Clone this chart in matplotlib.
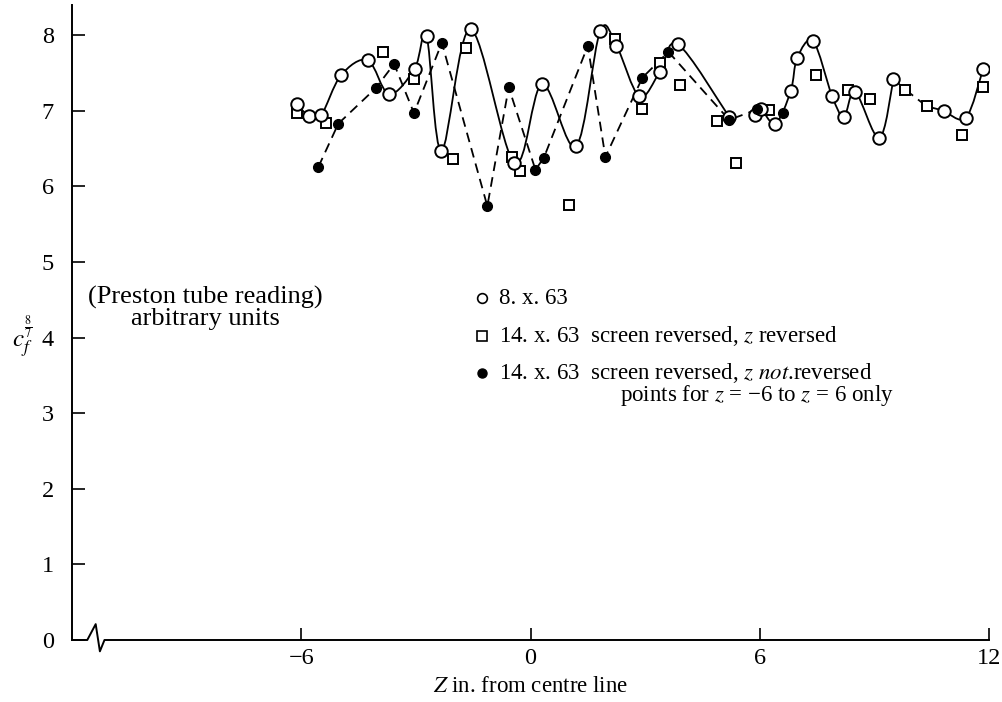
import numpy as np
import matplotlib
matplotlib.use("Agg")
import matplotlib.pyplot as plt
from matplotlib.path import Path
from matplotlib.patches import PathPatch
from matplotlib.lines import Line2D

# ---------------- data ----------------
# 8. x. 63  (open circles, smooth solid curve)
circ_z = [-6.12, -5.79, -5.48, -4.96, -4.26, -3.70, -3.03, -2.72, -2.33, -1.57,
          -0.42, 0.30, 1.19, 1.82, 2.25, 2.85, 3.39, 3.86, 5.20,
          5.87, 6.02, 6.41, 6.81, 6.98, 7.40, 7.89, 8.20, 8.50, 9.13, 9.50,
          10.83, 11.40, 11.85]
circ_c = [7.09, 6.93, 6.94, 7.47, 7.67, 7.22, 7.56, 7.99, 6.47, 8.08,
          6.31, 7.35, 6.53, 8.05, 7.86, 7.19, 7.52, 7.88, 6.92,
          6.94, 7.03, 6.83, 7.26, 7.70, 7.92, 7.20, 6.92, 7.25, 6.64, 7.42,
          7.00, 6.91, 7.56]
# solid-curve pieces (index ranges into circ_*)
circ_segments = [(0, 19), (19, 30), (30, 33)]

# 14. x. 63 screen reversed, z reversed (open squares)
sq_z = [-6.12, -5.35, -3.87, -3.05, -2.04, -1.68, -0.49, -0.27, 1.02, 2.22,
        2.91, 3.39, 3.91, 4.89, 5.37, 6.24, 7.46, 8.31, 8.89, 9.81,
        10.37, 11.29, 11.85]
sq_c = [6.97, 6.84, 7.78, 7.42, 6.36, 7.83, 6.39, 6.20, 5.76, 7.95,
        7.02, 7.63, 7.34, 6.87, 6.31, 7.01, 7.47, 7.27, 7.15, 7.28,
        7.06, 6.68, 7.31]

# 14. x. 63 screen reversed, z not reversed (filled circles, dashed)
fill_z = [-5.55, -5.03, -4.05, -3.57, -3.05, -2.32, -1.13, -0.57, 0.13, 0.35,
          1.50, 1.96, 2.93, 3.61, 5.20, 5.94, 6.61]
fill_c = [6.26, 6.83, 7.30, 7.62, 6.97, 7.90, 5.74, 7.31, 6.22, 6.38,
          7.86, 6.39, 7.44, 7.78, 6.88, 7.02, 6.97]

x_ticks = [-6, 0, 6, 12]
x_ticklabels = ["\u22126", "0", "6", "12"]
y_ticks = [0, 1, 2, 3, 4, 5, 6, 7, 8]

legend_labels = ["8. x. 63",
                 "14. x. 63  screen reversed, $z$ reversed",
                 "14. x. 63  screen reversed, $z$ $\\mathit{not}$.reversed"]
legend_note = "points for $z$ = \u22126 to $z$ = 6 only"

# ---------------- style ----------------
plt.rcParams['font.family'] = ['Liberation Serif', 'DejaVu Serif']
plt.rcParams['mathtext.fontset'] = 'stix'
plt.rcParams['lines.scale_dashes'] = False

W, H = 1003, 702
fig = plt.figure(figsize=(W / 100, H / 100), dpi=100)
ax = fig.add_axes([72 / W, 1 - 640 / H, 917 / W, 635 / H])
ax.set_xlim(-12, 12)
ax.set_ylim(0, 8.4)

for s in ['top', 'right', 'bottom']:
    ax.spines[s].set_visible(False)
ax.spines['left'].set_linewidth(1.4)

ax.set_xticks(x_ticks)
ax.set_xticklabels(x_ticklabels)
ax.set_yticks(y_ticks)
ax.tick_params(axis='y', direction='in', length=9, width=1.2, pad=13, labelsize=17.5)
ax.tick_params(axis='x', direction='in', length=9, width=1.2, pad=6, labelsize=17.5)

# x-axis line with break mark
brk_x = [-12, -11.6, -11.38, -11.27, -11.15, 12]
brk_y = [0, 0, 0.21, -0.15, 0, 0]
ax.plot(brk_x, brk_y, color='black', lw=1.4, clip_on=False, zorder=3)

LW = 1.3


def catmull_bezier(xs, ys):
    pts = np.column_stack([xs, ys]).astype(float)
    verts = [pts[0]]
    codes = [Path.MOVETO]
    n = len(pts)
    for i in range(n - 1):
        p0 = pts[i - 1] if i > 0 else pts[i]
        p1 = pts[i]
        p2 = pts[i + 1]
        p3 = pts[i + 2] if i + 2 < n else pts[i + 1]
        c1 = p1 + (p2 - p0) / 6.0
        c2 = p2 - (p3 - p1) / 6.0
        verts += [c1, c2, p2]
        codes += [Path.CURVE4] * 3
    return Path(verts, codes)


# smooth solid curves through open circles
for a, b in circ_segments:
    p = catmull_bezier(circ_z[a:b], circ_c[a:b])
    ax.add_patch(PathPatch(p, fill=False, lw=LW, ec='black', zorder=2))

# dashed connector of the open-circle curve across the squares (9.5 -> 10.8)
conn_z = [circ_z[29], sq_z[19], sq_z[20], circ_z[30]]
conn_c = [circ_c[29], sq_c[19], sq_c[20], circ_c[30]]
ax.plot(conn_z, conn_c, color='black', lw=LW, dashes=(7, 4.5), zorder=2)

# dashed line through filled points
ax.plot(fill_z, fill_c, color='black', lw=LW, dashes=(7, 4.5), zorder=2)

# markers
ax.plot(sq_z, sq_c, ls='none', marker='s', ms=7.5, mfc='white', mec='black',
        mew=1.4, zorder=4)
ax.plot(circ_z, circ_c, ls='none', marker='o', ms=9, mfc='white', mec='black',
        mew=1.4, zorder=5)
ax.plot(fill_z, fill_c, ls='none', marker='o', ms=7, mfc='black', mec='black',
        mew=1.0, zorder=6)

# axis label
fig.text(531 / W, 1 - 686 / H, "$Z$ in. from centre line", ha='center',
         va='center', fontsize=16.5)
fig.text(22 / W, 1 - 337 / H, r"$c_f^{\frac{8}{7}}$", ha='center', va='center',
         fontsize=18)

# annotation
fig.text(205 / W, 1 - 297 / H, "(Preston tube reading)", ha='center',
         va='center', fontsize=19)
fig.text(205 / W, 1 - 319 / H, "arbitrary units", ha='center', va='center',
         fontsize=19)

# manual legend
leg_y = [298, 336, 373]
leg_marker = [dict(marker='o', ms=7, mfc='white', mec='black', mew=1.2),
              dict(marker='s', ms=6.5, mfc='white', mec='black', mew=1.2),
              dict(marker='o', ms=6.5, mfc='black', mec='black', mew=1.0)]
for yy, lab, mk in zip(leg_y, legend_labels, leg_marker):
    fig.add_artist(Line2D([482 / W], [1 - yy / H], ls='none',
                          transform=fig.transFigure, **mk))
    fig.text(499 / W, 1 - yy / H, lab, ha='left', va='center', fontsize=16.5)
fig.text(620 / W, 1 - 396 / H, legend_note, ha='left', va='center', fontsize=16.5)

fig.savefig("out.png", dpi=100)
